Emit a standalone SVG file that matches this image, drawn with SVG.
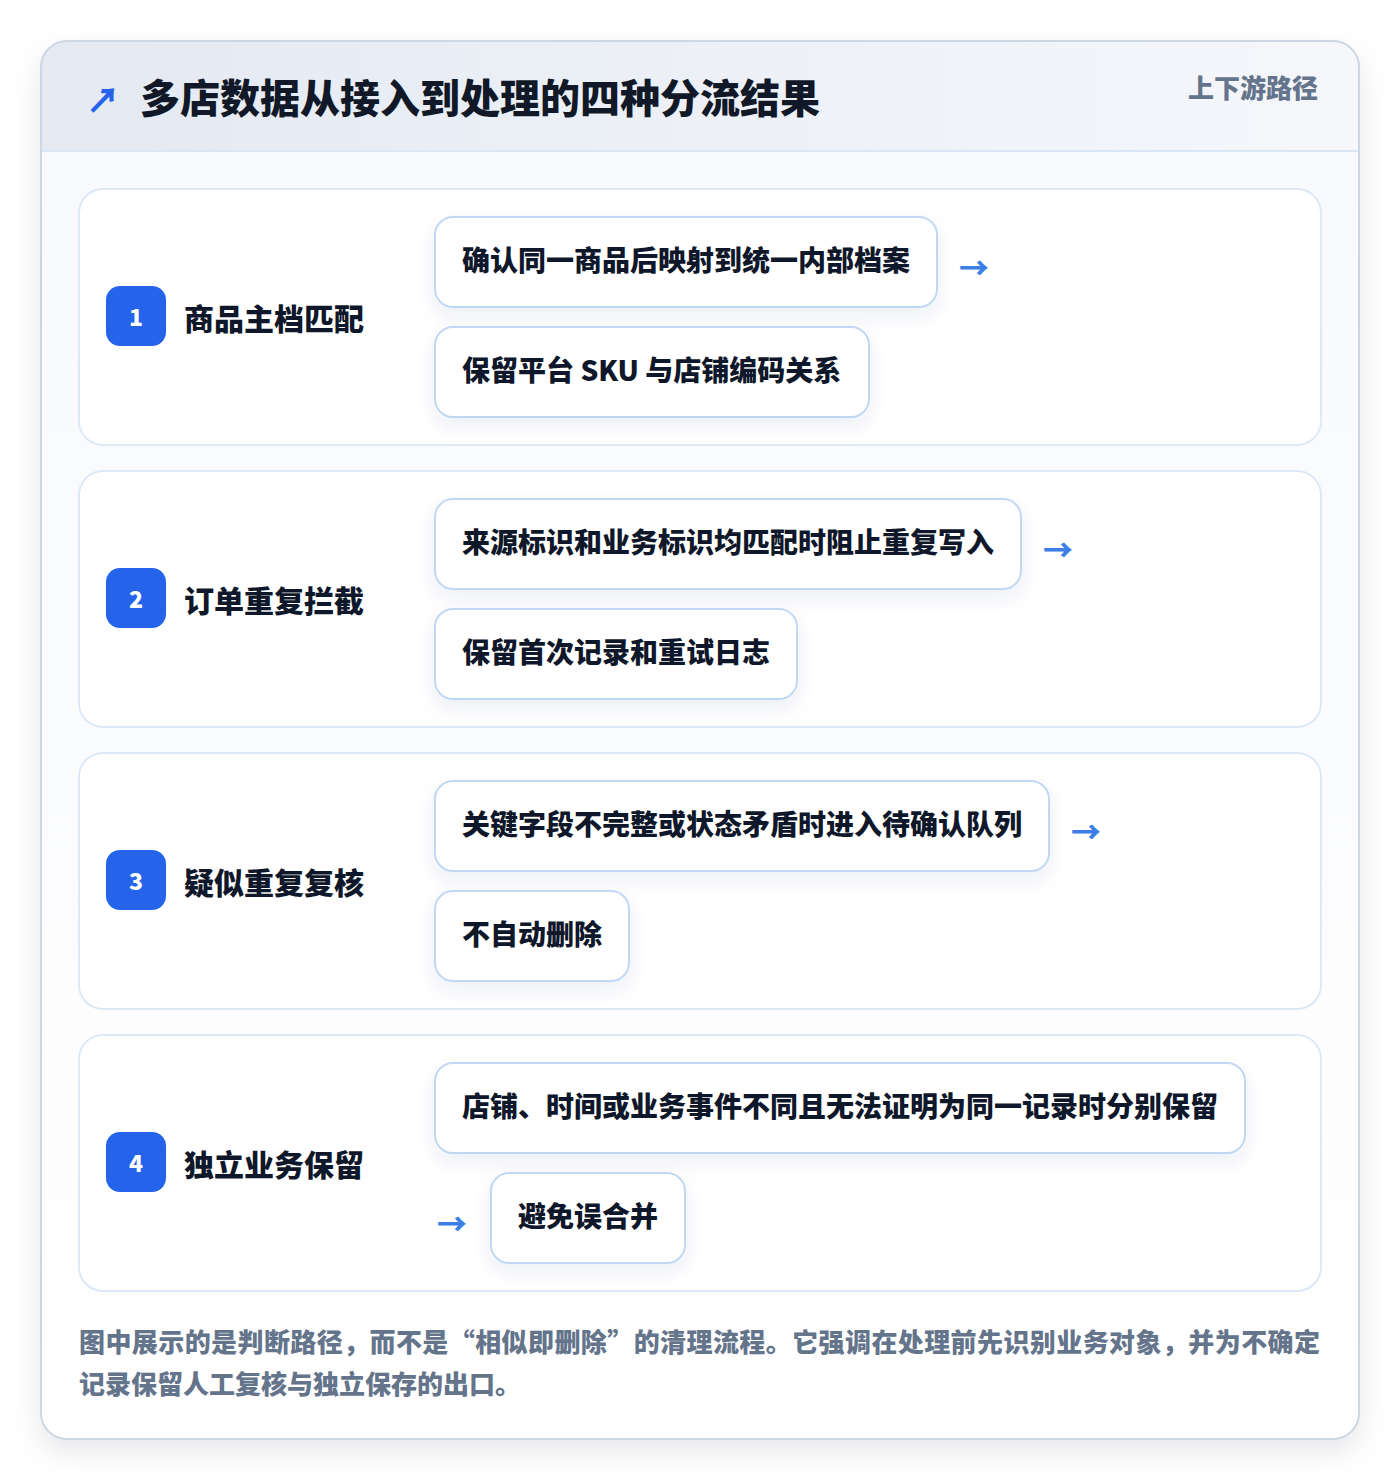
<svg xmlns="http://www.w3.org/2000/svg" width="1400" height="1482" viewBox="0 0 1400 1482">
<defs>
<linearGradient id="hdr" x1="0" y1="0" x2="1" y2="0">
<stop offset="0" stop-color="#e4e9f2"/>
<stop offset="1" stop-color="#f5f7fb"/>
</linearGradient>
<linearGradient id="body" x1="0" y1="0" x2="0" y2="1">
<stop offset="0" stop-color="#f7f9fc"/>
<stop offset="1" stop-color="#ffffff"/>
</linearGradient>
<filter id="cardShadow" x="-10%" y="-10%" width="120%" height="120%">
<feDropShadow dx="0" dy="12" stdDeviation="14" flood-color="#0f172a" flood-opacity="0.10"/>
</filter>
<filter id="chipShadow" x="-10%" y="-30%" width="120%" height="170%">
<feDropShadow dx="0" dy="8" stdDeviation="9" flood-color="#1e3a8a" flood-opacity="0.08"/>
</filter>
<clipPath id="cardClip"><rect x="41" y="41" width="1318" height="1398" rx="26"/></clipPath>
</defs>
<style>
text{font-family:"Noto Sans CJK SC","Noto Sans",sans-serif;font-weight:800}
.row{fill:#ffffff;stroke:#dde9f7;stroke-width:2}
.badge{fill:#2563eb}
.num{fill:#ffffff;font-size:23px;text-anchor:middle}
.lbl{fill:#0f172a;font-size:30px}
.chip{fill:#ffffff;stroke:#c1d8f5;stroke-width:2}
.ct{fill:#0f172a;font-size:28px}
.arr{fill:#3b7ee6;font-size:30px;font-weight:800}
.note{fill:#64748b;font-size:26px}
</style>
<rect x="0" y="0" width="1400" height="1482" fill="#ffffff"/>
<g id="card">
<rect x="41" y="41" width="1318" height="1398" rx="26" fill="#ffffff" filter="url(#cardShadow)"/>
<g clip-path="url(#cardClip)">
<rect x="41" y="41" width="1318" height="1398" fill="url(#body)"/>
<rect x="41" y="41" width="1318" height="110" fill="url(#hdr)"/>
</g>
<line x1="41" y1="151" x2="1359" y2="151" stroke="#dbe6f5" stroke-width="2"/>
<rect x="41" y="41" width="1318" height="1398" rx="26" fill="none" stroke="#cdd6e3" stroke-width="2"/>
</g>
<g id="header">
<text x="86" y="113" fill="#2563eb" font-size="34" font-weight="800">↗</text>
<text x="140" y="113" fill="#111827" font-size="40">多店数据从接入到处理的四种分流结果</text>
<text x="1318" y="98" fill="#64748b" font-size="26" text-anchor="end">上下游路径</text>
</g>
<g id="row1">
<rect class="row" x="79" y="189" width="1242" height="256" rx="24"/>
<rect class="badge" x="106" y="286" width="60" height="60" rx="14"/>
<text class="num" x="136" y="326">1</text>
<text class="lbl" x="184" y="330">商品主档匹配</text>
</g>
<g id="row1-chip1">
<rect class="chip" x="435" y="217" width="502" height="90" rx="18" filter="url(#chipShadow)"/>
<text class="ct" x="462" y="271">确认同一商品后映射到统一内部档案</text>
</g>
<g id="row1-chip2">
<rect class="chip" x="435" y="327" width="434" height="90" rx="18" filter="url(#chipShadow)"/>
<text class="ct" x="462" y="381">保留平台 SKU 与店铺编码关系</text>
</g>
<g id="row2">
<rect class="row" x="79" y="471" width="1242" height="256" rx="24"/>
<rect class="badge" x="106" y="568" width="60" height="60" rx="14"/>
<text class="num" x="136" y="608">2</text>
<text class="lbl" x="184" y="612">订单重复拦截</text>
</g>
<g id="row2-chip1">
<rect class="chip" x="435" y="499" width="586" height="90" rx="18" filter="url(#chipShadow)"/>
<text class="ct" x="462" y="553">来源标识和业务标识均匹配时阻止重复写入</text>
</g>
<g id="row2-chip2">
<rect class="chip" x="435" y="609" width="362" height="90" rx="18" filter="url(#chipShadow)"/>
<text class="ct" x="462" y="663">保留首次记录和重试日志</text>
</g>
<g id="row3">
<rect class="row" x="79" y="753" width="1242" height="256" rx="24"/>
<rect class="badge" x="106" y="850" width="60" height="60" rx="14"/>
<text class="num" x="136" y="890">3</text>
<text class="lbl" x="184" y="894">疑似重复复核</text>
</g>
<g id="row3-chip1">
<rect class="chip" x="435" y="781" width="614" height="90" rx="18" filter="url(#chipShadow)"/>
<text class="ct" x="462" y="835">关键字段不完整或状态矛盾时进入待确认队列</text>
</g>
<g id="row3-chip2">
<rect class="chip" x="435" y="891" width="194" height="90" rx="18" filter="url(#chipShadow)"/>
<text class="ct" x="462" y="945">不自动删除</text>
</g>
<g id="row4">
<rect class="row" x="79" y="1035" width="1242" height="256" rx="24"/>
<rect class="badge" x="106" y="1132" width="60" height="60" rx="14"/>
<text class="num" x="136" y="1172">4</text>
<text class="lbl" x="184" y="1176">独立业务保留</text>
</g>
<g id="row4-chip1">
<rect class="chip" x="435" y="1063" width="810" height="90" rx="18" filter="url(#chipShadow)"/>
<text class="ct" x="462" y="1117">店铺、时间或业务事件不同且无法证明为同一记录时分别保留</text>
</g>
<g id="row4-chip2">
<rect class="chip" x="491" y="1173" width="194" height="90" rx="18" filter="url(#chipShadow)"/>
<text class="ct" x="518" y="1227">避免误合并</text>
</g>
<g id="connectors">
<text class="arr" x="959" y="279">→</text>
<text class="arr" x="1043" y="561">→</text>
<text class="arr" x="1071" y="843">→</text>
<text class="arr" x="437" y="1235">→</text>
</g>
<g id="footnote">
<text class="note" x="79" y="1352" textLength="1241" lengthAdjust="spacing">图中展示的是判断路径，而不是“相似即删除”的清理流程。它强调在处理前先识别业务对象，并为不确定</text>
<text class="note" x="79" y="1394">记录保留人工复核与独立保存的出口。</text>
</g>
</svg>
